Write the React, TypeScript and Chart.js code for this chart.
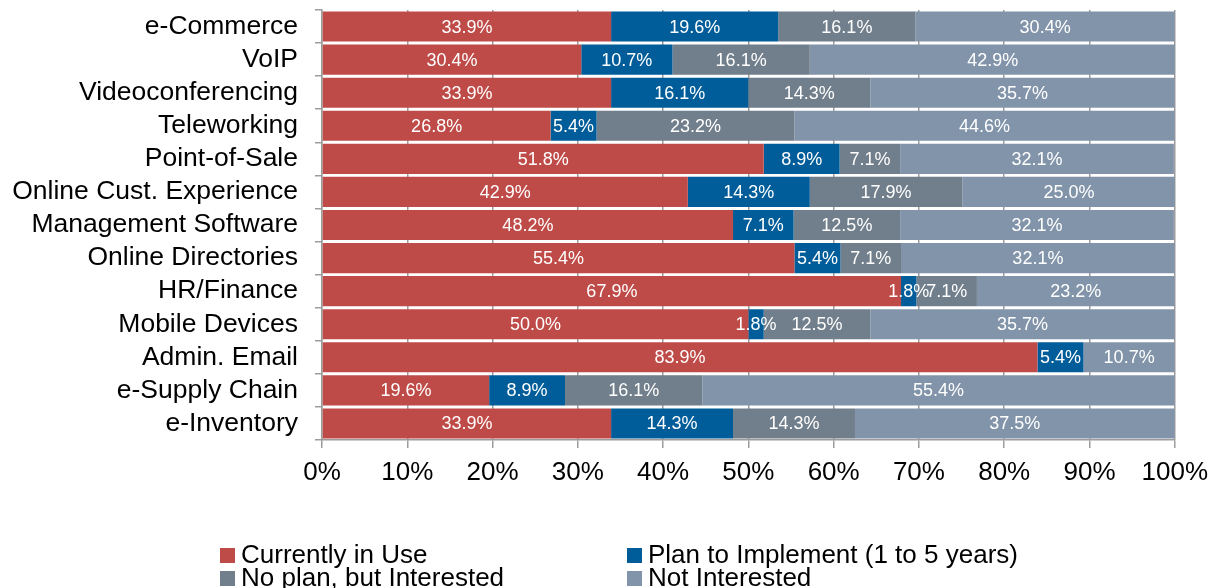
import React, { useEffect, useRef } from "react";
import { Chart, registerables } from "chart.js";

Chart.register(...registerables);

const categories = [
  "e-Commerce",
  "VoIP",
  "Videoconferencing",
  "Teleworking",
  "Point-of-Sale",
  "Online Cust. Experience",
  "Management Software",
  "Online Directories",
  "HR/Finance",
  "Mobile Devices",
  "Admin. Email",
  "e-Supply Chain",
  "e-Inventory",
];

const seriesNames = [
  "Currently in Use",
  "Plan to Implement (1 to 5 years)",
  "No plan, but Interested",
  "Not Interested",
];

const currentlyInUse = [33.9, 30.4, 33.9, 26.8, 51.8, 42.9, 48.2, 55.4, 67.9, 50.0, 83.9, 19.6, 33.9];
const planToImplement = [19.6, 10.7, 16.1, 5.4, 8.9, 14.3, 7.1, 5.4, 1.8, 1.8, 5.4, 8.9, 14.3];
const noPlanInterested = [16.1, 16.1, 14.3, 23.2, 7.1, 17.9, 12.5, 7.1, 7.1, 12.5, 0, 16.1, 14.3];
const notInterested = [30.4, 42.9, 35.7, 44.6, 32.1, 25.0, 32.1, 32.1, 23.2, 35.7, 10.7, 55.4, 37.5];

const xTicks = [0, 10, 20, 30, 40, 50, 60, 70, 80, 90, 100];

const colors = ["#BF4B48", "#005D9A", "#717E8B", "#8294AA"];

const FONT = "'Liberation Sans', Arial, Helvetica, sans-serif";

const dataLabelPlugin = {
  id: "segmentLabels",
  afterDatasetsDraw(chart: any) {
    const ctx = chart.ctx;
    ctx.save();
    ctx.font = `18px ${FONT}`;
    ctx.fillStyle = "#ffffff";
    ctx.textAlign = "center";
    ctx.textBaseline = "middle";
    chart.data.datasets.forEach((ds: any, di: number) => {
      const meta = chart.getDatasetMeta(di);
      meta.data.forEach((el: any, i: number) => {
        const v = ds.data[i];
        if (!v) return;
        const props = el.getProps(["x", "y", "base"], true);
        const cx = (props.x + props.base) / 2;
        ctx.fillText(v.toFixed(1) + "%", cx, props.y + 1);
      });
    });
    ctx.restore();
  },
};

const legendPlugin = {
  id: "gridLegend",
  afterDraw(chart: any) {
    const ctx = chart.ctx;
    ctx.save();
    ctx.font = `26px ${FONT}`;
    ctx.textBaseline = "middle";
    ctx.textAlign = "left";
    const cols = [220, 627];
    const rows = [555, 578];
    seriesNames.forEach((name, i) => {
      const x = cols[i % 2];
      const y = rows[Math.floor(i / 2)];
      ctx.fillStyle = colors[i];
      ctx.fillRect(x, y - 7, 15, 15);
      ctx.fillStyle = "#000000";
      ctx.fillText(name, x + 21, y + 1);
    });
    ctx.restore();
  },
};

export default function App() {
  const canvasRef = useRef<HTMLCanvasElement | null>(null);

  useEffect(() => {
    if (!canvasRef.current) return;
    const seriesData = [currentlyInUse, planToImplement, noPlanInterested, notInterested];
    const chart = new Chart(canvasRef.current, {
      type: "bar",
      data: {
        labels: categories,
        datasets: seriesNames.map((name, i) => ({
          label: name,
          data: seriesData[i],
          backgroundColor: colors[i],
          borderWidth: 0,
          barPercentage: 0.91,
          categoryPercentage: 1,
        })),
      },
      options: {
        indexAxis: "y",
        responsive: false,
        animation: false,
        maintainAspectRatio: false,
        layout: { padding: { left: 0, right: 38, top: 10, bottom: 88 } },
        plugins: {
          legend: { display: false },
          tooltip: { enabled: false },
          title: { display: false },
        },
        scales: {
          x: {
            stacked: true,
            min: 0,
            max: 100,
            afterFit: (scale: any) => {
              scale.height = 60;
            },
            afterBuildTicks: (scale: any) => {
              scale.ticks = xTicks.map((v) => ({ value: v }));
            },
            ticks: {
              callback: (v: any) => v + "%",
              color: "#000000",
              font: { family: FONT, size: 26 },
              padding: 9,
              maxRotation: 0,
              autoSkip: false,
            },
            grid: {
              color: "#9c9c9c",
              lineWidth: 1.5,
              tickLength: 8,
              drawOnChartArea: true,
            },
            border: { display: true, color: "#9c9c9c", width: 1.5 },
          },
          y: {
            stacked: true,
            afterFit: (scale: any) => {
              scale.width = 322;
              scale.paddingTop = 0;
              scale.paddingBottom = 0;
            },
            ticks: {
              color: "#000000",
              font: { family: FONT, size: 26.5 },
              padding: 17,
              autoSkip: false,
            },
            grid: {
              offset: true,
              drawOnChartArea: false,
              color: "#9c9c9c",
              lineWidth: 1.5,
              tickLength: 7,
            },
            border: { display: true, color: "#9c9c9c", width: 1.5 },
          },
        },
      },
      plugins: [dataLabelPlugin, legendPlugin],
    });
    return () => chart.destroy();
  }, []);

  return (
    <div style={{ position: "fixed", left: 0, top: 0, width: 1217, height: 588, background: "#ffffff" }}>
      <canvas ref={canvasRef} width={1217} height={588} style={{ display: "block", width: 1217, height: 588 }} />
    </div>
  );
}
